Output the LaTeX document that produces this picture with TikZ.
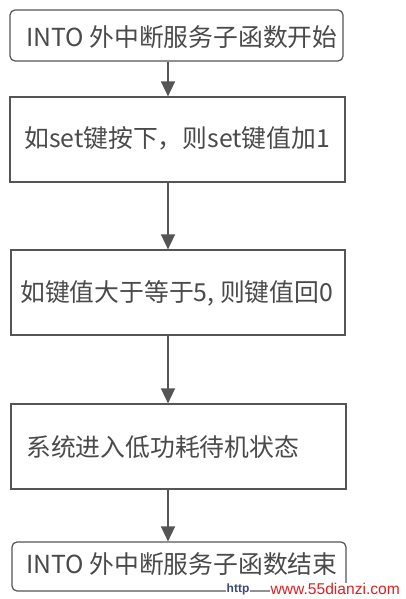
\documentclass[tikz,border=0pt]{standalone}
\usepackage{fontspec}
\newfontfamily\cjk{Noto Sans CJK SC}
\newfontfamily\wmfont{Liberation Sans}
\usetikzlibrary{arrows.meta}
\definecolor{ink}{HTML}{555555}
\definecolor{txt}{HTML}{4A4A4A}
\definecolor{wmred}{HTML}{E02020}
\definecolor{wmblue}{HTML}{3A4A7A}
\begin{document}
\begin{tikzpicture}[x=1pt,y=-1pt,
  box/.style={draw=ink, line width=1.2pt, rectangle, inner sep=0pt},
  rbox/.style={box, rounded corners=5pt},
  lbl/.style={anchor=west, inner sep=0pt, text=txt, font=\cjk\fontsize{24.8}{28}\selectfont},
  arr/.style={draw=ink, line width=1.5pt, -{Triangle[length=15pt,width=14pt]}}]
\useasboundingbox (0,0) rectangle (405,599);
\fill[white] (0,0) rectangle (405,599);
\node[rbox, minimum width=333pt, minimum height=51pt] (b1) at (176.5,35.5) {};
\node[box, minimum width=335pt, minimum height=85pt] (b2) at (177.5,139.5) {};
\node[box, minimum width=334pt, minimum height=85pt] (b3) at (178,292.5) {};
\node[box, minimum width=335pt, minimum height=85pt] (b4) at (178.5,446.5) {};
\node[rbox, minimum width=334pt, minimum height=49pt] (b5) at (179,566.5) {};
\node[lbl] (t1) at (26,37) {INTO 外中断服务子函数开始};
\node[lbl] (t2) at (24,138) {如set键按下，则set键值加1};
\node[lbl] (t3) at (20,293) {如键值大于等于5,\ 则键值回0};
\node[lbl] (t4) at (26,447) {系统进入低功耗待机状态};
\node[lbl] (t5) at (26,564) {INTO 外中断服务子函数结束};
\coordinate (col) at (168,0);
\draw[arr] (b1.south -| col) -- (b2.north -| col);
\draw[arr] (b2.south -| col) -- (b3.north -| col);
\draw[arr] (b3.south -| col) -- (b4.north -| col);
\draw[arr] (b4.south -| col) -- (b5.north -| col);
\node[anchor=west, inner sep=0.5pt, fill=white, text=wmblue, font=\wmfont\bfseries\fontsize{12}{14}\selectfont] (wm1) at (226,589) {http};
\node[anchor=west, inner sep=0.5pt, fill=white, text=wmred, font=\wmfont\fontsize{15.6}{18}\selectfont] (wm2) at (270,589) {www.55dianzi.com};
\end{tikzpicture}
\end{document}
